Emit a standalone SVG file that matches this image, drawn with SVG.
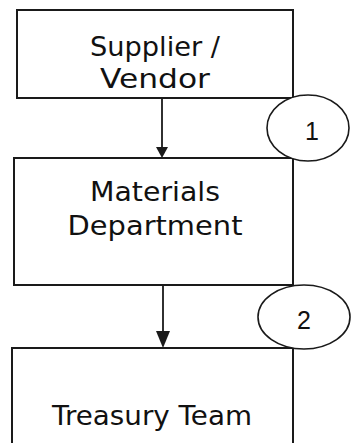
<svg xmlns="http://www.w3.org/2000/svg" width="351" height="443" viewBox="0 0 351 443">
<style>
.box{fill:#fff;stroke:#1a1a1a;stroke-width:2}
.ell{fill:#fff;stroke:#1a1a1a;stroke-width:1.6}
.lbl{font-family:"DejaVu Sans",sans-serif;font-size:26.5px;fill:#111;text-anchor:middle}
.num{font-family:"Liberation Sans",sans-serif;font-size:25px;fill:#111;text-anchor:middle}
.conn{stroke:#1a1a1a;stroke-width:1.8;fill:none}
.head{fill:#1a1a1a}
</style>
<rect width="351" height="443" fill="#fff"/>
<g id="connectors">
<line class="conn" x1="162" y1="98" x2="162" y2="150"/>
<polygon class="head" points="156,147 168,147 162,158"/>
<line class="conn" x1="163" y1="285" x2="163" y2="334"/>
<polygon class="head" points="156,331 170,331 163,348"/>
</g>
<g id="supplier">
<rect class="box" x="17" y="10" width="276" height="88"/>
<text class="lbl" x="155" y="56" textLength="130" lengthAdjust="spacingAndGlyphs">Supplier /</text>
<text class="lbl" x="155" y="88" textLength="110" lengthAdjust="spacingAndGlyphs">Vendor</text>
</g>
<g id="materials">
<rect class="box" x="14" y="158" width="279" height="127"/>
<text class="lbl" x="155" y="201" textLength="130" lengthAdjust="spacingAndGlyphs">Materials</text>
<text class="lbl" x="155" y="235" textLength="175" lengthAdjust="spacingAndGlyphs">Department</text>
</g>
<g id="treasury">
<rect class="box" x="12" y="348" width="281" height="110"/>
<text class="lbl" x="152" y="425" textLength="200" lengthAdjust="spacingAndGlyphs">Treasury Team</text>
</g>
<g id="step1">
<ellipse class="ell" cx="308" cy="128" rx="41" ry="33"/>
<text class="num" x="312" y="140">1</text>
</g>
<g id="step2">
<ellipse class="ell" cx="304" cy="317" rx="46" ry="32"/>
<text class="num" x="304" y="329">2</text>
</g>
</svg>
